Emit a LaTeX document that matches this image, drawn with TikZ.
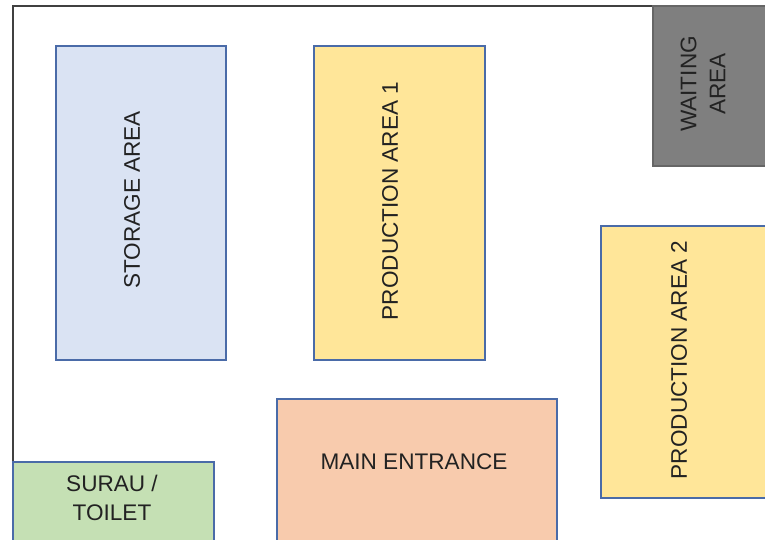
\documentclass[tikz,border=0pt]{standalone}
\usepackage{fontspec}
\setmainfont{Liberation Sans}
\definecolor{storagefill}{HTML}{DAE3F3}
\definecolor{productionfill}{HTML}{FFE699}
\definecolor{entrancefill}{HTML}{F8CBAD}
\definecolor{suraufill}{HTML}{C5E0B4}
\definecolor{waitingfill}{HTML}{7F7F7F}
\definecolor{areaborder}{HTML}{4A6BA8}
\definecolor{textcol}{HTML}{222222}
\begin{document}
\begin{tikzpicture}[x=0.02cm, y=-0.02cm,
    area/.style={draw=areaborder, line width=0.75pt},
    areatext/.style={text=textcol, font=\fontsize{12.85}{16.4}\selectfont, align=center, inner sep=0pt}]
    % page size
    \clip (0,0) rectangle (765,539);

    % draw outer wall
    \draw[line width=0.85pt, color=black!75] (13,560) -- (13,6) -- (660,6);

    % draw areas
    \draw[area, fill=storagefill] (56,46) rectangle (226,360);
    \draw[area, fill=productionfill] (314,46) rectangle (485,360);
    \draw[area, fill=productionfill] (601,226) rectangle (790,498);
    \draw[area, fill=entrancefill] (277,399) rectangle (557,560);
    \draw[area, fill=suraufill] (13,462) rectangle (214,560);
    \draw[draw=black!60, line width=0.75pt, fill=waitingfill] (653,6) rectangle (790,166);

    % draw nodes
    \node[areatext, rotate=90] (storage) at (132,200) {STORAGE AREA};
    \node[areatext, rotate=90] (production1) at (390,201) {PRODUCTION AREA 1};
    \node[areatext, rotate=90] (production2) at (679,360) {PRODUCTION AREA 2};
    \node[areatext, rotate=90] (waiting) at (703,84) {WAITING\\AREA};
    \node[areatext] (entrance) at (414,462) {MAIN ENTRANCE};
    \node[areatext] (surau) at (112,498) {SURAU /\\TOILET};
\end{tikzpicture}
\end{document}
